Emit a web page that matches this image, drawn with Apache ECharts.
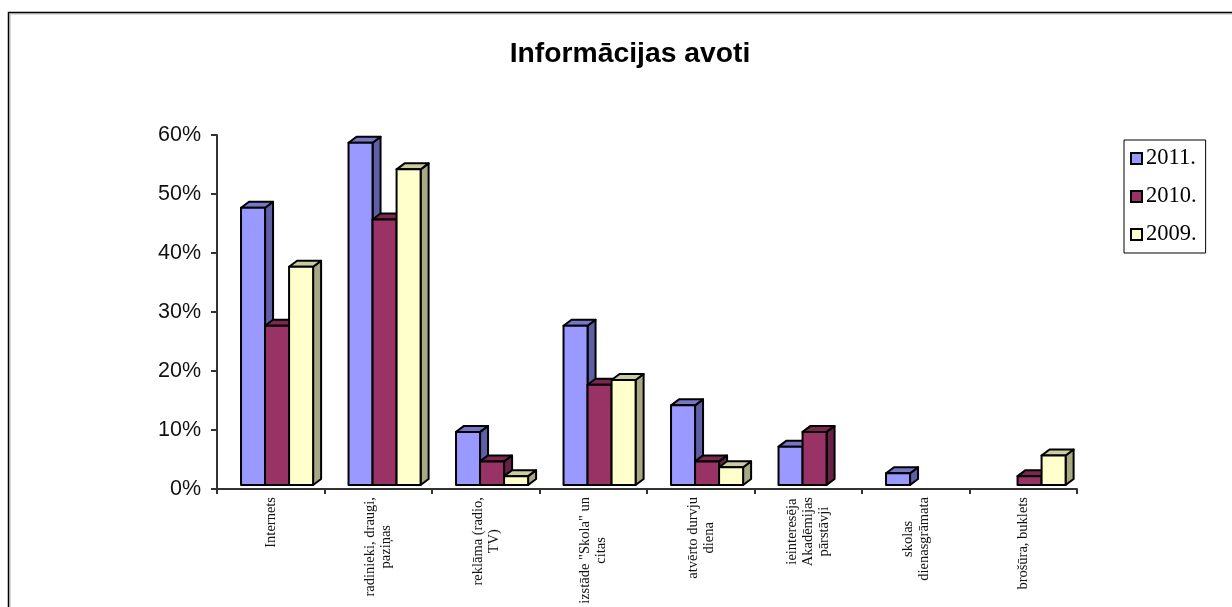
<!DOCTYPE html>
<html>
<head>
<meta charset="utf-8">
<style>
  html, body { margin: 0; padding: 0; background: #fff; overflow: hidden; }
  #main { width: 1232px; height: 607px; }
</style>
<script src="https://cdn.jsdelivr.net/npm/echarts@6/dist/echarts.min.js"></script>
</head>
<body>
<div id="main"></div>
<script>
var categories = [
  "Internets",
  "radinieki, draugi,\npaziņas",
  "reklāma (radio,\nTV)",
  "izstāde \"Skola\" un\ncitas",
  "atvērto durvju\ndiena",
  "ieinteresēja\nAkadēmijas\npārstāvji",
  "skolas\ndienasgrāmata",
  "brošūra, buklets"
];
var y2011 = [47, 58, 9, 27, 13.5, 6.5, 2, null];
var y2010 = [27, 45, 4, 17, 4, 9, null, 1.5];
var y2009 = [37, 53.5, 1.5, 17.8, 3, null, null, 5];
var yTicks = [0, 10, 20, 30, 40, 50, 60];

var myChart = echarts.init(document.getElementById("main"));

// 3D look: each bar is front + side + top polygon
function bar3d(seriesIdx, colors) {
  return function (params, api) {
    var val = api.value(1);
    if (isNaN(val)) return;
    var catW = api.size([1, 0])[0];
    var w = catW * 0.2235;
    var start = api.coord([api.value(0), 0])[0] - catW / 2 + catW * 0.2235 + seriesIdx * w;
    var base = api.coord([0, 0])[1] - 4;
    var top = base - (api.coord([0, 0])[1] - api.coord([0, val])[1]);
    var end = start + w;
    var dx = 8, dy = 6;
    var line = { stroke: "#000", lineWidth: 2, lineJoin: "round" };
    return {
      type: "group",
      children: [
        { type: "polygon", shape: { points: [[end, base], [end + dx, base - dy], [end + dx, top - dy], [end, top]] }, style: Object.assign({ fill: colors[1] }, line) },
        { type: "polygon", shape: { points: [[start, top], [start + dx, top - dy], [end + dx, top - dy], [end, top]] }, style: Object.assign({ fill: colors[2] }, line) },
        { type: "rect", shape: { x: start, y: top, width: w, height: base - top }, style: Object.assign({ fill: colors[0] }, line) }
      ]
    };
  };
}

function toPairs(arr) {
  return arr.map(function (v, i) { return [i, v]; });
}

var option = {
  animation: false,
  backgroundColor: "#fff",
  title: {
    text: "Informācijas avoti",
    left: 625,
    top: 35,
    textAlign: "center",
    textStyle: { fontFamily: "Liberation Sans", fontSize: 28.3, fontWeight: "bold", color: "#000" }
  },
  legend: {
    left: 1124,
    top: 140,
    orient: "vertical",
    icon: "rect",
    data: ["2011.", "2010.", "2009."],
    borderColor: "#000",
    borderWidth: 1,
    padding: [7, 9, 7, 6],
    itemGap: 15,
    itemWidth: 11,
    itemHeight: 11,
    textStyle: { fontFamily: "Liberation Serif", fontSize: 22.5, color: "#000", padding: [0, 0, 0, -1] },
    itemStyle: { borderColor: "#000", borderWidth: 2 }
  },
  grid: { left: 217, top: 135, width: 860, height: 354 },
  xAxis: {
    type: "category",
    data: categories,
    axisLine: { lineStyle: { color: "#333", width: 2 } },
    axisTick: { show: true, length: 5, alignWithLabel: false, lineStyle: { color: "#333", width: 2 } },
    axisLabel: {
      interval: 0,
      rotate: 90,
      margin: 8,
      fontFamily: "Liberation Serif",
      fontSize: 14.5,
      color: "#111",
      formatter: function (v) {
        return v.split("\n").map(function (l) { return "{c|" + l + "}"; }).join("\n");
      },
      rich: { c: { align: "center", fontFamily: "Liberation Serif", fontSize: 14.5, lineHeight: 16, color: "#111" } }
    }
  },
  yAxis: {
    type: "value",
    min: yTicks[0],
    max: yTicks[yTicks.length - 1],
    interval: 10,
    splitLine: { show: false },
    axisLine: { show: true, lineStyle: { color: "#333", width: 2 } },
    axisTick: { show: true, length: 6, lineStyle: { color: "#333", width: 2 } },
    axisLabel: {
      margin: 16,
      formatter: "{value}%",
      fontFamily: "Liberation Sans",
      fontSize: 21.5,
      color: "#111"
    }
  },
  graphic: [
    {
      type: "rect",
      silent: true,
      z: -2,
      shape: { x: 10, y: 14, width: 1240, height: 620 },
      style: { fill: "none", stroke: "#bbb", lineWidth: 1 }
    },
    {
      type: "rect",
      silent: true,
      z: -1,
      shape: { x: 8.5, y: 12.5, width: 1240, height: 620 },
      style: { fill: "none", stroke: "#000", lineWidth: 1.5 }
    }
  ],
  series: [
    { name: "2011.", type: "custom", renderItem: bar3d(0, ["#9999FF", "#5F5FA8", "#7777C8"]), itemStyle: { color: "#9999FF" }, data: toPairs(y2011), encode: { x: 0, y: 1 } },
    { name: "2010.", type: "custom", renderItem: bar3d(1, ["#993366", "#662244", "#7A2851"]), itemStyle: { color: "#993366" }, data: toPairs(y2010), encode: { x: 0, y: 1 } },
    { name: "2009.", type: "custom", renderItem: bar3d(2, ["#FFFFCC", "#A8A884", "#CCCCA3"]), itemStyle: { color: "#FFFFCC" }, data: toPairs(y2009), encode: { x: 0, y: 1 } }
  ]
};

option && myChart.setOption(option);
</script>
</body>
</html>
